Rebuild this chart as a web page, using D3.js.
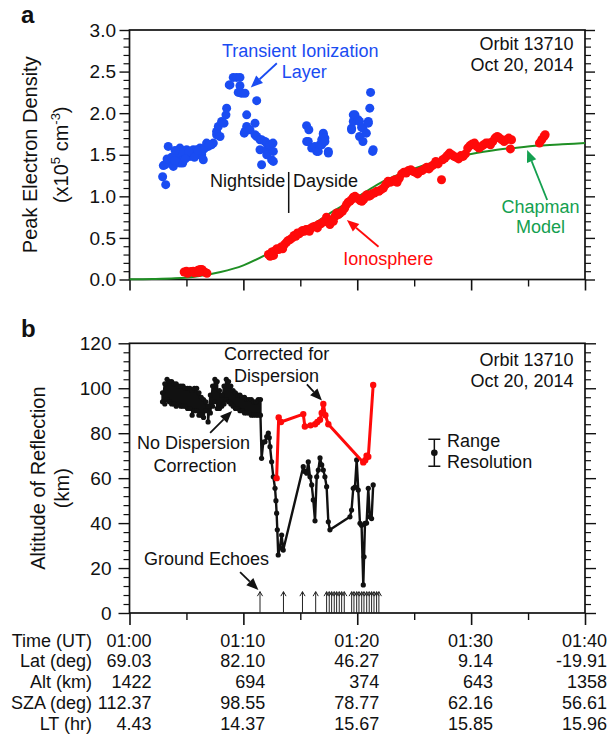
<!DOCTYPE html>
<html><head><meta charset="utf-8">
<script src="https://cdn.jsdelivr.net/npm/d3@7"></script>
<style>
body{margin:0;background:#fff}
svg{display:block}
text{font-family:"Liberation Sans",Arial,Helvetica,sans-serif;fill:#111}
</style>
</head><body>
<svg id="c" width="611" height="736"></svg>
<script>
// ---------------- DATA (time in minutes after 01:00 UT) ----------------
// Panel a: Transient ionization layer (blue)
const blueT = [2.91,3.18,2.97,3.12,3.4,3.56,3.85,3.85,4.14,4.28,4.43,4.43,4.67,4.72,5.02,5.02,5.31,5.46,5.6,5.9,5.9,6.19,6.19,6.34,6.46,6.48,6.77,6.92,7.2,7.36,7.65,7.65,7.8,7.95,8.09,8.3,8.47,8.53,8.76,8.82,9.11,9.41,9.7,9.55,9.7,9.85,10.14,11.17,10.29,10.29,10.08,10.14,10.58,11.02,11.02,11.17,11.46,11.46,11.6,11.6,11.9,12.05,12.05,12.05,12.34,12.34,12.48,12.6,12.63,12.63,
  3.3,3.7,4.0,4.6,5.2,5.7,6.0,6.6,7.0,4.9,3.4,4.0,
  15.55,15.75,15.56,15.7,16.0,16.28,16.44,16.58,16.73,16.88,16.88,17.02,17.02,17.16,17.16,17.46,17.46,
  19.5,19.5,19.65,19.65,19.8,20.09,20.2,20.2,20.38,20.5,20.5,20.8,20.97,20.97,21.1,21.17,21.35,21.4];
const blueV = [1.235,1.14,1.37,1.38,1.40,1.44,1.36,1.44,1.52,1.50,1.58,1.40,1.40,1.44,1.48,1.56,1.48,1.52,1.56,1.50,1.56,1.58,1.50,1.50,1.56,1.44,1.64,1.60,1.62,1.64,1.74,1.78,1.84,1.72,1.90,1.88,1.98,2.06,2.34,2.34,2.43,2.43,2.43,2.25,2.33,2.24,2.24,2.15,1.98,1.84,1.76,1.78,1.80,1.88,1.74,1.72,1.68,1.56,1.68,1.38,1.66,1.64,1.56,1.50,1.60,1.62,1.44,1.64,1.54,1.42,
  1.45,1.47,1.43,1.53,1.53,1.47,1.55,1.58,1.62,1.45,1.60,1.55,
  1.85,1.80,1.66,1.66,1.58,1.60,1.54,1.54,1.62,1.62,1.68,1.76,1.74,1.70,1.66,1.54,1.52,
  1.80,1.82,1.90,1.98,1.98,1.92,1.90,1.72,1.83,1.82,1.66,1.76,1.90,1.88,2.06,2.25,1.54,1.56];

// Panel a: Ionosphere (red)
const ionoT = [4.8,5.0,5.2,5.4,5.6,5.8,6.0,6.2,6.35,6.5,6.65,6.8,5.1,5.7,6.1,
  12.2,12.35,12.5,12.65,12.8,12.95,13.1,13.3,13.45,13.6,13.8,13.95,14.1,14.3,14.45,14.6,14.75,14.9,15.05,15.2,15.35,15.5,15.65,15.8,15.95,16.1,16.3,16.5,16.6,16.8,17.0,17.15,17.3,17.45,17.6,17.75,17.9,18.05,18.2,18.35,18.5,18.7,18.9,19.05,19.2,19.35,19.5,19.65,19.8,19.95,20.1,20.25,20.4,20.55,20.7,20.85,21.0,21.15,21.3,21.5,21.7,21.9,22.1,22.3,22.5,22.7,22.9,23.1,23.3,23.5,23.7,23.9,24.1,24.3,24.5,24.7,24.9,25.1,25.3,25.5,25.7,25.9,26.1,26.3,26.5,26.7,26.9,27.1,27.4,27.5,27.7,27.9,28.1,28.3,28.5,28.7,28.9,29.1,29.3,29.5,29.7,29.9,30.1,30.3,30.5,30.7,30.9,31.1,31.3,31.5,31.7,31.9,32.1,32.3,32.5,32.7,32.9,33.1,33.3,33.45,33.55,36.0,36.2,36.4,36.5];
const ionoV = [0.09,0.10,0.085,0.095,0.10,0.09,0.11,0.12,0.12,0.10,0.085,0.075,0.075,0.08,0.085,
  0.30,0.28,0.33,0.29,0.35,0.37,0.36,0.39,0.37,0.42,0.45,0.47,0.48,0.50,0.53,0.52,0.56,0.55,0.57,0.59,0.58,0.60,0.60,0.58,0.62,0.63,0.64,0.62,0.66,0.67,0.69,0.70,0.75,0.72,0.66,0.71,0.70,0.76,0.80,0.78,0.80,0.82,0.86,0.90,0.93,0.94,0.96,0.99,1.00,0.98,0.97,0.95,0.94,0.96,1.00,1.02,1.00,1.01,1.03,1.04,1.06,1.06,1.08,1.10,1.14,1.18,1.17,1.18,1.20,1.17,1.22,1.27,1.29,1.28,1.31,1.32,1.30,1.29,1.27,1.30,1.31,1.33,1.35,1.33,1.36,1.38,1.42,1.39,1.20,1.44,1.46,1.49,1.52,1.50,1.48,1.47,1.45,1.49,1.48,1.51,1.58,1.61,1.63,1.64,1.60,1.58,1.60,1.62,1.64,1.64,1.62,1.66,1.70,1.72,1.70,1.68,1.66,1.68,1.70,1.57,1.68,1.64,1.68,1.72,1.74];

// Panel a: Chapman model (green)
const chapT = [0,2,4,6,8,10,12,14,16,18,20,22,24,26,28,30,32,34,36,38,40];
const chapV = [0.002,0.005,0.014,0.04,0.09,0.17,0.30,0.46,0.65,0.83,0.99,1.16,1.28,1.38,1.455,1.51,1.555,1.585,1.61,1.625,1.64];

// Panel b: No dispersion correction (black) – dense band, top/bottom per time
const bandT   = [2.9,3.1,3.3,3.5,3.7,3.9,4.1,4.3,4.5,4.7,4.9,5.1,5.3,5.5,5.7,5.9,6.1,6.3,6.5,6.7,6.9,7.1,7.3,7.5,7.7,7.9,8.1,8.3,8.5,8.7,8.9,9.1,9.3,9.5,9.7,9.9,10.1,10.3,10.5,10.7,10.9,11.1,11.3,11.5];
const bandTop = [98,102,104,103,103,102,102,101,101,101,100,100,100,99,100,100,98,96,95,94,92,97,101,104,103,99,97,101,104,103,101,99,98,97,97,96,96,95,95,95,94,94,95,95];
const bandBot = [94,93,95,94,93,93,92,93,92,92,92,91,91,88,90,90,88,88,87,90,85,89,92,94,91,91,92,93,95,94,93,92,91,91,90,90,89,89,89,88,88,88,88,88];
// Panel b: black tail after the band
const tailT = [11.6,11.75,11.9,12.05,12.19,12.27,12.34,12.48,12.63,12.78,12.86,12.92,12.98,13.06,13.2,13.36,13.5,15.26,15.4,15.56,15.7,15.85,16.0,16.14,16.29,16.44,16.58,16.73,16.88,17.02,17.16,17.31,17.46,17.6,19.36,19.5,19.65,19.8,19.95,20.09,20.24,20.38,20.53,20.6,20.68,20.82,20.97,21.1,21.26,21.4];
const tailAlt = [68.8,76,76.2,78.5,80,78,74,67.3,60.6,55.5,50,44.4,37,25.8,29,34.7,28,65.1,63,62.2,67.3,60.6,57,50.3,41,60.6,63.6,69,65.9,63.6,60.6,56.2,40.6,37,42.8,45.8,55.5,56,68.1,54.7,39.9,39,12.5,25,39.9,40,55.5,42.8,42,57];

// Panel b: Corrected for dispersion (red)
const corrT   = [12.92,13.1,13.3,15.26,15.4,15.9,16.3,16.5,16.73,16.88,17.02,17.2,17.46,20.53,20.7,20.82,20.97,21.4];
const corrAlt = [60,87,85,88.5,83,83.5,84,85,86,89,93,88,84,67,68,70,69.5,101.5];

// Panel b: ground echo times
const echoT = [11.46,13.52,15.19,16.35,17.31,17.54,17.75,17.98,18.19,18.42,18.63,18.86,19.51,19.71,19.95,20.15,20.39,20.59,20.83,21.05,21.26,21.47,21.7,21.9];

// Table below the axis
const tickTimes  = [0,10,20,30,40];
const rowLabels  = ["Time (UT)","Lat (deg)","Alt (km)","SZA (deg)","LT (hr)"];
const timeLabels = ["01:00","01:10","01:20","01:30","01:40"];
const latVals    = ["69.03","82.10","46.27","9.14","-19.91"];
const altVals    = ["1422","694","374","643","1358"];
const szaVals    = ["112.37","98.55","78.77","62.16","56.61"];
const ltVals     = ["4.43","14.37","15.67","15.85","15.96"];

// ---------------- DRAWING ----------------
const BLUE = "#1a4cf2", RED = "#ff0a0a", GREEN_LINE = "#1f8f24", GREEN_TXT = "#14a050";
const svg = d3.select("#c");
const x = d3.scaleLinear().domain([0,40]).range([129.5,585]);
const yA = d3.scaleLinear().domain([0,3]).range([279.5,30]);
const yB = d3.scaleLinear().domain([0,120]).range([613,343.3]);

function arrow(g,x1,y1,x2,y2,color,hl=12,hw=5,sw=1.8){
  const a=Math.atan2(y2-y1,x2-x1);
  const bx=x2-hl*Math.cos(a), by=y2-hl*Math.sin(a);
  g.append("line").attr("x1",x1).attr("y1",y1).attr("x2",bx).attr("y2",by)
    .attr("stroke",color).attr("stroke-width",sw);
  g.append("path").attr("d",`M${x2},${y2}L${bx-hw*Math.sin(a)},${by+hw*Math.cos(a)}L${bx+hw*Math.sin(a)},${by-hw*Math.cos(a)}Z`)
    .attr("fill",color);
}
function txt(g,xx,yy,s,opts={}){
  return g.append("text").attr("x",xx).attr("y",yy).text(s)
    .attr("font-size",opts.size||18).attr("text-anchor",opts.anchor||"start")
    .style("fill",opts.color||"#111").attr("font-weight",opts.weight||"normal");
}

function frameAndAxes(g,y,majorY,minorY,fmt,majLen,tickPad,bottomMaj){
  const x0=x.range()[0], x1=x.range()[1], yb=y.range()[0], yt=y.range()[1];
  // left
  const la=d3.axisLeft(y).tickValues(majorY).tickSize(majLen).tickPadding(tickPad).tickFormat(fmt);
  const gl=g.append("g").attr("transform",`translate(${x0},0)`).call(la);
  gl.select(".domain").remove();
  gl.selectAll("line").attr("stroke","#111").attr("stroke-width",1.4);
  gl.selectAll("text").attr("font-size",19).style("fill","#111")
    .style("font-family",'"Liberation Sans",Arial,Helvetica,sans-serif');
  const lm=d3.axisLeft(y).tickValues(minorY).tickSize(6).tickFormat("");
  const glm=g.append("g").attr("transform",`translate(${x0},0)`).call(lm);
  glm.select(".domain").remove(); glm.selectAll("line").attr("stroke","#111").attr("stroke-width",1.2);
  // right
  const ra=d3.axisRight(y).tickValues(majorY).tickSize(majLen).tickFormat("");
  const gr=g.append("g").attr("transform",`translate(${x1},0)`).call(ra);
  gr.select(".domain").remove(); gr.selectAll("line").attr("stroke","#111").attr("stroke-width",1.4);
  const rm=d3.axisRight(y).tickValues(minorY).tickSize(6).tickFormat("");
  const grm=g.append("g").attr("transform",`translate(${x1},0)`).call(rm);
  grm.select(".domain").remove(); grm.selectAll("line").attr("stroke","#111").attr("stroke-width",1.2);
  // bottom
  const ba=d3.axisBottom(x).tickValues([0,10,20,30,40]).tickSize(bottomMaj).tickFormat("");
  const gb=g.append("g").attr("transform",`translate(0,${yb})`).call(ba);
  gb.select(".domain").remove(); gb.selectAll("line").attr("stroke","#111").attr("stroke-width",1.6);
  const bm=d3.axisBottom(x).tickValues([5,15,25,35]).tickSize(7).tickFormat("");
  const gbm=g.append("g").attr("transform",`translate(0,${yb})`).call(bm);
  gbm.select(".domain").remove(); gbm.selectAll("line").attr("stroke","#111").attr("stroke-width",1.4);
  // frame
  g.append("rect").attr("x",x0).attr("y",yt).attr("width",x1-x0).attr("height",yb-yt)
    .attr("fill","none").attr("stroke","#111").attr("stroke-width",1.7);
}

// ---------- Panel a ----------
const ga = svg.append("g");
frameAndAxes(ga,yA,d3.range(0,3.01,0.5),d3.range(0,3.01,0.1).filter(v=>Math.abs(v*2-Math.round(v*2))>1e-6),d3.format(".1f"),10,3.5,11);

ga.append("path").datum(chapT.map((t,i)=>[t,chapV[i]]))
  .attr("d",d3.line().x(d=>x(d[0])).y(d=>yA(d[1])).curve(d3.curveMonotoneX))
  .attr("fill","none").attr("stroke",GREEN_LINE).attr("stroke-width",2);
ga.selectAll("circle.ion").data(ionoT.map((t,i)=>[t,ionoV[i]])).enter().append("circle")
  .attr("cx",d=>x(d[0])).attr("cy",d=>yA(d[1])).attr("r",4.5).attr("fill",RED);
ga.selectAll("circle.til").data(blueT.map((t,i)=>[t,blueV[i]])).enter().append("circle")
  .attr("cx",d=>x(d[0])).attr("cy",d=>yA(d[1])).attr("r",4.5).attr("fill",BLUE);

// annotations a
txt(svg,21,23,"a",{size:24,weight:"bold"});
txt(ga,x(14.99),yA(2.675),"Transient Ionization",{anchor:"middle",color:BLUE});
txt(ga,x(15.34),yA(2.423),"Layer",{anchor:"middle",color:BLUE});
arrow(ga,x(12.94),yA(2.60),x(10.65),yA(2.31),BLUE);
txt(ga,x(38.99),yA(2.76),"Orbit 13710",{anchor:"end"});
txt(ga,x(38.99),yA(2.507),"Oct 20, 2014",{anchor:"end"});
txt(ga,x(13.67),yA(1.109),"Nightside",{anchor:"end"});
txt(ga,x(14.35),yA(1.109),"Dayside");
ga.append("line").attr("x1",x(13.98)).attr("x2",x(13.98)).attr("y1",yA(1.293)).attr("y2",yA(0.80))
  .attr("stroke","#111").attr("stroke-width",1.5);
txt(ga,x(22.73),yA(0.174),"Ionosphere",{anchor:"middle",color:RED});
arrow(ga,x(21.87),yA(0.394),x(19.09),yA(0.715),RED);
txt(ga,x(36.09),yA(0.80),"Chapman",{anchor:"middle",color:GREEN_TXT});
txt(ga,x(36.09),yA(0.559),"Model",{anchor:"middle",color:GREEN_TXT});
arrow(ga,x(36.68),yA(0.956),x(34.92),yA(1.557),GREEN_TXT);

// y title a
ga.append("text").attr("transform",`translate(37,${(yA(0)+yA(3))/2}) rotate(-90)`)
  .attr("text-anchor","middle").attr("font-size",20).text("Peak Electron Density");
const ta2 = ga.append("text").attr("transform",`translate(68,${(yA(0)+yA(3))/2}) rotate(-90)`)
  .attr("text-anchor","middle").attr("font-size",20);
ta2.append("tspan").text("(x10");
ta2.append("tspan").text("5").attr("font-size",13).attr("dy",-8);
ta2.append("tspan").text(" cm").attr("dy",8);
ta2.append("tspan").text("-3").attr("font-size",13).attr("dy",-8);
ta2.append("tspan").text(")").attr("dy",8);

// ---------- Panel b ----------
const gb = svg.append("g");
frameAndAxes(gb,yB,d3.range(0,121,20),d3.range(0,121,4).filter(v=>v%20!==0),d3.format("d"),11,7,12);

// ground echoes
echoT.forEach(t=>{
  const xx=x(t), y0=yB(0), y1=yB(9.5);
  gb.append("line").attr("x1",xx).attr("x2",xx).attr("y1",y0).attr("y2",y1).attr("stroke","#222").attr("stroke-width",1);
  gb.append("path").attr("d",`M${xx-2.6},${y1+4.5}L${xx},${y1}L${xx+2.6},${y1+4.5}`)
    .attr("fill","none").attr("stroke","#222").attr("stroke-width",1);
});

const blackPts=[];
bandT.forEach((t,i)=>{blackPts.push([t,bandTop[i]]);blackPts.push([t,bandBot[i]]);});
tailT.forEach((t,i)=>blackPts.push([t,tailAlt[i]]));
const lineB=d3.line().x(d=>x(d[0])).y(d=>yB(d[1]));
gb.append("path").datum(blackPts).attr("d",lineB).attr("fill","none").attr("stroke","#111")
  .attr("stroke-width",2.4).attr("stroke-linejoin","round");
gb.selectAll("circle.nd").data(blackPts).enter().append("circle")
  .attr("cx",d=>x(d[0])).attr("cy",d=>yB(d[1])).attr("r",2.6).attr("fill","#111");

const redPts=corrT.map((t,i)=>[t,corrAlt[i]]);
gb.append("path").datum(redPts).attr("d",lineB).attr("fill","none").attr("stroke",RED)
  .attr("stroke-width",3).attr("stroke-linejoin","round");
gb.selectAll("circle.cd").data(redPts).enter().append("circle")
  .attr("cx",d=>x(d[0])).attr("cy",d=>yB(d[1])).attr("r",3.2).attr("fill",RED);

// annotations b
txt(svg,21,337,"b",{size:24,weight:"bold"});
txt(gb,x(38.99),yB(110.1),"Orbit 13710",{anchor:"end"});
txt(gb,x(38.99),yB(100.6),"Oct 20, 2014",{anchor:"end"});
txt(gb,x(12.92),yB(112.6),"Corrected for",{anchor:"middle"});
txt(gb,x(12.92),yB(102.9),"Dispersion",{anchor:"middle"});
arrow(gb,x(15.58),yB(101.7),x(16.9),yB(94.5),"#111");
txt(gb,x(5.63),yB(73),"No Dispersion",{anchor:"middle"});
txt(gb,x(5.76),yB(62.7),"Correction",{anchor:"middle"});
arrow(gb,x(7.08),yB(80.1),x(9.01),yB(89.9),"#111");
txt(gb,x(6.77),yB(21.4),"Ground Echoes",{anchor:"middle"});
arrow(gb,x(9.71),yB(18.2),x(11.32),yB(10.2),"#111");
// range resolution
const rrT=26.77, rrC=71.3, rrH=6;
gb.append("line").attr("x1",x(rrT)).attr("x2",x(rrT)).attr("y1",yB(rrC-rrH)).attr("y2",yB(rrC+rrH)).attr("stroke","#111").attr("stroke-width",1.5);
[rrC-rrH,rrC+rrH].forEach(v=>gb.append("line").attr("x1",x(rrT)-6).attr("x2",x(rrT)+6).attr("y1",yB(v)).attr("y2",yB(v)).attr("stroke","#111").attr("stroke-width",1.5));
gb.append("circle").attr("cx",x(rrT)).attr("cy",yB(rrC)).attr("r",3.3).attr("fill","#111");
txt(gb,x(27.89),yB(73.9),"Range");
txt(gb,x(27.89),yB(64.5),"Resolution");

// y title b
gb.append("text").attr("transform",`translate(45,${(yB(0)+yB(120))/2}) rotate(-90)`)
  .attr("text-anchor","middle").attr("font-size",20).text("Altitude of Reflection");
gb.append("text").attr("transform",`translate(69,${(yB(0)+yB(120))/2+10}) rotate(-90)`)
  .attr("text-anchor","middle").attr("font-size",20).text("(km)");

// ---------- Table ----------
const tableCols=[timeLabels,latVals,altVals,szaVals,ltVals];
const rowBase=646.5, rowGap=20.9;
const gt=svg.append("g");
rowLabels.forEach((lab,r)=>{
  const yy=rowBase+r*rowGap;
  txt(gt,92,yy,lab,{size:18,anchor:"end"});
  tableCols[r].forEach((v,c)=>txt(gt,x(tickTimes[c])+22,yy,v,{size:18,anchor:"end"}));
});
</script>
</body></html>
